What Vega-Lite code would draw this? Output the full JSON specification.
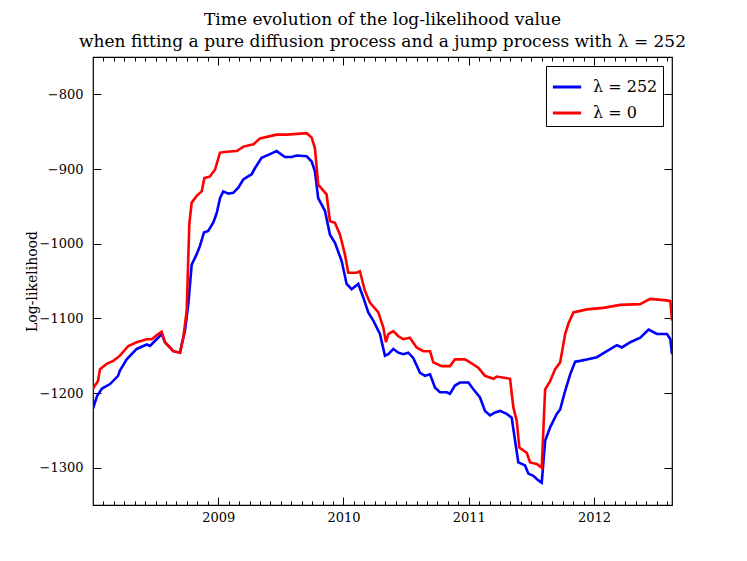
{
  "$schema": "https://vega.github.io/schema/vega-lite/v6.json",
  "description": "Time evolution of the log-likelihood, pure diffusion vs jump process",
  "width": 579,
  "height": 448,
  "autosize": {"type": "none"},
  "padding": {"left": 93, "top": 57, "right": 75, "bottom": 56},
  "title": {
    "text": ["Time evolution of the log-likelihood value", "when fitting a pure diffusion process and a jump process with λ = 252"],
    "font": "DejaVu Serif",
    "fontSize": 17,
    "fontWeight": "normal",
    "color": "black",
    "anchor": "middle",
    "offset": 6,
    "lineHeight": 22
  },
  "config": {
    "view": {"stroke": "black", "strokeWidth": 1.2},
    "axis": {
      "labelFont": "DejaVu Serif",
      "labelFontSize": 13,
      "labelColor": "black",
      "titleFont": "DejaVu Serif",
      "titleFontWeight": "normal",
      "titleColor": "black",
      "domain": false,
      "grid": false,
      "tickColor": "black"
    },
    "legend": {
      "labelFont": "DejaVu Serif",
      "labelFontSize": 16,
      "labelColor": "black"
    }
  },
  "data": {
    "values": [
      {"t": 2008.000, "v": -1221, "s": "λ = 252"},
      {"t": 2008.032, "v": -1204, "s": "λ = 252"},
      {"t": 2008.072, "v": -1194, "s": "λ = 252"},
      {"t": 2008.136, "v": -1188, "s": "λ = 252"},
      {"t": 2008.200, "v": -1177, "s": "λ = 252"},
      {"t": 2008.215, "v": -1170, "s": "λ = 252"},
      {"t": 2008.269, "v": -1155, "s": "λ = 252"},
      {"t": 2008.349, "v": -1141, "s": "λ = 252"},
      {"t": 2008.429, "v": -1135, "s": "λ = 252"},
      {"t": 2008.455, "v": -1137, "s": "λ = 252"},
      {"t": 2008.508, "v": -1128, "s": "λ = 252"},
      {"t": 2008.548, "v": -1121, "s": "λ = 252"},
      {"t": 2008.575, "v": -1132, "s": "λ = 252"},
      {"t": 2008.641, "v": -1144, "s": "λ = 252"},
      {"t": 2008.695, "v": -1146, "s": "λ = 252"},
      {"t": 2008.708, "v": -1135, "s": "λ = 252"},
      {"t": 2008.734, "v": -1117, "s": "λ = 252"},
      {"t": 2008.761, "v": -1081, "s": "λ = 252"},
      {"t": 2008.788, "v": -1028, "s": "λ = 252"},
      {"t": 2008.828, "v": -1014, "s": "λ = 252"},
      {"t": 2008.854, "v": -1003, "s": "λ = 252"},
      {"t": 2008.886, "v": -985, "s": "λ = 252"},
      {"t": 2008.920, "v": -983, "s": "λ = 252"},
      {"t": 2008.960, "v": -972, "s": "λ = 252"},
      {"t": 2008.988, "v": -959, "s": "λ = 252"},
      {"t": 2009.014, "v": -939, "s": "λ = 252"},
      {"t": 2009.040, "v": -930, "s": "λ = 252"},
      {"t": 2009.080, "v": -933, "s": "λ = 252"},
      {"t": 2009.120, "v": -932, "s": "λ = 252"},
      {"t": 2009.160, "v": -925, "s": "λ = 252"},
      {"t": 2009.200, "v": -914, "s": "λ = 252"},
      {"t": 2009.267, "v": -907, "s": "λ = 252"},
      {"t": 2009.293, "v": -899, "s": "λ = 252"},
      {"t": 2009.346, "v": -885, "s": "λ = 252"},
      {"t": 2009.413, "v": -880, "s": "λ = 252"},
      {"t": 2009.466, "v": -876, "s": "λ = 252"},
      {"t": 2009.532, "v": -884, "s": "λ = 252"},
      {"t": 2009.586, "v": -884, "s": "λ = 252"},
      {"t": 2009.626, "v": -882, "s": "λ = 252"},
      {"t": 2009.706, "v": -883, "s": "λ = 252"},
      {"t": 2009.746, "v": -890, "s": "λ = 252"},
      {"t": 2009.772, "v": -903, "s": "λ = 252"},
      {"t": 2009.798, "v": -939, "s": "λ = 252"},
      {"t": 2009.852, "v": -956, "s": "λ = 252"},
      {"t": 2009.892, "v": -988, "s": "λ = 252"},
      {"t": 2009.932, "v": -999, "s": "λ = 252"},
      {"t": 2009.985, "v": -1023, "s": "λ = 252"},
      {"t": 2010.025, "v": -1054, "s": "λ = 252"},
      {"t": 2010.065, "v": -1061, "s": "λ = 252"},
      {"t": 2010.118, "v": -1054, "s": "λ = 252"},
      {"t": 2010.158, "v": -1072, "s": "λ = 252"},
      {"t": 2010.198, "v": -1092, "s": "λ = 252"},
      {"t": 2010.238, "v": -1103, "s": "λ = 252"},
      {"t": 2010.291, "v": -1121, "s": "λ = 252"},
      {"t": 2010.331, "v": -1150, "s": "λ = 252"},
      {"t": 2010.358, "v": -1148, "s": "λ = 252"},
      {"t": 2010.398, "v": -1141, "s": "λ = 252"},
      {"t": 2010.438, "v": -1146, "s": "λ = 252"},
      {"t": 2010.478, "v": -1148, "s": "λ = 252"},
      {"t": 2010.517, "v": -1146, "s": "λ = 252"},
      {"t": 2010.557, "v": -1153, "s": "λ = 252"},
      {"t": 2010.611, "v": -1173, "s": "λ = 252"},
      {"t": 2010.651, "v": -1177, "s": "λ = 252"},
      {"t": 2010.691, "v": -1175, "s": "λ = 252"},
      {"t": 2010.731, "v": -1193, "s": "λ = 252"},
      {"t": 2010.771, "v": -1199, "s": "λ = 252"},
      {"t": 2010.824, "v": -1199, "s": "λ = 252"},
      {"t": 2010.850, "v": -1201, "s": "λ = 252"},
      {"t": 2010.890, "v": -1190, "s": "λ = 252"},
      {"t": 2010.930, "v": -1186, "s": "λ = 252"},
      {"t": 2010.997, "v": -1186, "s": "λ = 252"},
      {"t": 2011.037, "v": -1195, "s": "λ = 252"},
      {"t": 2011.090, "v": -1206, "s": "λ = 252"},
      {"t": 2011.130, "v": -1224, "s": "λ = 252"},
      {"t": 2011.170, "v": -1230, "s": "λ = 252"},
      {"t": 2011.210, "v": -1226, "s": "λ = 252"},
      {"t": 2011.250, "v": -1224, "s": "λ = 252"},
      {"t": 2011.303, "v": -1228, "s": "λ = 252"},
      {"t": 2011.343, "v": -1233, "s": "λ = 252"},
      {"t": 2011.370, "v": -1264, "s": "λ = 252"},
      {"t": 2011.396, "v": -1293, "s": "λ = 252"},
      {"t": 2011.450, "v": -1297, "s": "λ = 252"},
      {"t": 2011.476, "v": -1308, "s": "λ = 252"},
      {"t": 2011.516, "v": -1311, "s": "λ = 252"},
      {"t": 2011.556, "v": -1317, "s": "λ = 252"},
      {"t": 2011.583, "v": -1320, "s": "λ = 252"},
      {"t": 2011.610, "v": -1264, "s": "λ = 252"},
      {"t": 2011.650, "v": -1246, "s": "λ = 252"},
      {"t": 2011.703, "v": -1228, "s": "λ = 252"},
      {"t": 2011.730, "v": -1222, "s": "λ = 252"},
      {"t": 2011.770, "v": -1197, "s": "λ = 252"},
      {"t": 2011.810, "v": -1175, "s": "λ = 252"},
      {"t": 2011.850, "v": -1158, "s": "λ = 252"},
      {"t": 2011.890, "v": -1157, "s": "λ = 252"},
      {"t": 2011.943, "v": -1155, "s": "λ = 252"},
      {"t": 2012.023, "v": -1152, "s": "λ = 252"},
      {"t": 2012.103, "v": -1144, "s": "λ = 252"},
      {"t": 2012.183, "v": -1136, "s": "λ = 252"},
      {"t": 2012.223, "v": -1139, "s": "λ = 252"},
      {"t": 2012.290, "v": -1132, "s": "λ = 252"},
      {"t": 2012.370, "v": -1126, "s": "λ = 252"},
      {"t": 2012.436, "v": -1115, "s": "λ = 252"},
      {"t": 2012.503, "v": -1121, "s": "λ = 252"},
      {"t": 2012.583, "v": -1121, "s": "λ = 252"},
      {"t": 2012.610, "v": -1128, "s": "λ = 252"},
      {"t": 2012.623, "v": -1148, "s": "λ = 252"},
      {"t": 2008.000, "v": -1194, "s": "λ = 0"},
      {"t": 2008.040, "v": -1184, "s": "λ = 0"},
      {"t": 2008.056, "v": -1168, "s": "λ = 0"},
      {"t": 2008.109, "v": -1161, "s": "λ = 0"},
      {"t": 2008.162, "v": -1157, "s": "λ = 0"},
      {"t": 2008.215, "v": -1150, "s": "λ = 0"},
      {"t": 2008.282, "v": -1137, "s": "λ = 0"},
      {"t": 2008.349, "v": -1132, "s": "λ = 0"},
      {"t": 2008.429, "v": -1128, "s": "λ = 0"},
      {"t": 2008.469, "v": -1128, "s": "λ = 0"},
      {"t": 2008.521, "v": -1121, "s": "λ = 0"},
      {"t": 2008.548, "v": -1118, "s": "λ = 0"},
      {"t": 2008.575, "v": -1132, "s": "λ = 0"},
      {"t": 2008.641, "v": -1144, "s": "λ = 0"},
      {"t": 2008.695, "v": -1146, "s": "λ = 0"},
      {"t": 2008.721, "v": -1126, "s": "λ = 0"},
      {"t": 2008.748, "v": -1090, "s": "λ = 0"},
      {"t": 2008.769, "v": -974, "s": "λ = 0"},
      {"t": 2008.788, "v": -945, "s": "λ = 0"},
      {"t": 2008.828, "v": -936, "s": "λ = 0"},
      {"t": 2008.868, "v": -930, "s": "λ = 0"},
      {"t": 2008.889, "v": -912, "s": "λ = 0"},
      {"t": 2008.934, "v": -910, "s": "λ = 0"},
      {"t": 2008.974, "v": -901, "s": "λ = 0"},
      {"t": 2009.014, "v": -878, "s": "λ = 0"},
      {"t": 2009.068, "v": -877, "s": "λ = 0"},
      {"t": 2009.148, "v": -876, "s": "λ = 0"},
      {"t": 2009.201, "v": -870, "s": "λ = 0"},
      {"t": 2009.281, "v": -867, "s": "λ = 0"},
      {"t": 2009.334, "v": -859, "s": "λ = 0"},
      {"t": 2009.466, "v": -854, "s": "λ = 0"},
      {"t": 2009.546, "v": -854, "s": "λ = 0"},
      {"t": 2009.706, "v": -852, "s": "λ = 0"},
      {"t": 2009.746, "v": -858, "s": "λ = 0"},
      {"t": 2009.772, "v": -872, "s": "λ = 0"},
      {"t": 2009.798, "v": -921, "s": "λ = 0"},
      {"t": 2009.865, "v": -934, "s": "λ = 0"},
      {"t": 2009.892, "v": -970, "s": "λ = 0"},
      {"t": 2009.932, "v": -972, "s": "λ = 0"},
      {"t": 2009.972, "v": -988, "s": "λ = 0"},
      {"t": 2010.011, "v": -1014, "s": "λ = 0"},
      {"t": 2010.038, "v": -1039, "s": "λ = 0"},
      {"t": 2010.105, "v": -1039, "s": "λ = 0"},
      {"t": 2010.131, "v": -1037, "s": "λ = 0"},
      {"t": 2010.171, "v": -1063, "s": "λ = 0"},
      {"t": 2010.211, "v": -1079, "s": "λ = 0"},
      {"t": 2010.278, "v": -1092, "s": "λ = 0"},
      {"t": 2010.318, "v": -1112, "s": "λ = 0"},
      {"t": 2010.339, "v": -1132, "s": "λ = 0"},
      {"t": 2010.358, "v": -1121, "s": "λ = 0"},
      {"t": 2010.398, "v": -1117, "s": "λ = 0"},
      {"t": 2010.438, "v": -1124, "s": "λ = 0"},
      {"t": 2010.478, "v": -1128, "s": "λ = 0"},
      {"t": 2010.530, "v": -1126, "s": "λ = 0"},
      {"t": 2010.584, "v": -1139, "s": "λ = 0"},
      {"t": 2010.637, "v": -1144, "s": "λ = 0"},
      {"t": 2010.691, "v": -1144, "s": "λ = 0"},
      {"t": 2010.717, "v": -1159, "s": "λ = 0"},
      {"t": 2010.784, "v": -1164, "s": "λ = 0"},
      {"t": 2010.850, "v": -1164, "s": "λ = 0"},
      {"t": 2010.890, "v": -1155, "s": "λ = 0"},
      {"t": 2010.970, "v": -1155, "s": "λ = 0"},
      {"t": 2011.010, "v": -1159, "s": "λ = 0"},
      {"t": 2011.076, "v": -1166, "s": "λ = 0"},
      {"t": 2011.130, "v": -1177, "s": "λ = 0"},
      {"t": 2011.197, "v": -1181, "s": "λ = 0"},
      {"t": 2011.224, "v": -1178, "s": "λ = 0"},
      {"t": 2011.330, "v": -1181, "s": "λ = 0"},
      {"t": 2011.356, "v": -1219, "s": "λ = 0"},
      {"t": 2011.383, "v": -1237, "s": "λ = 0"},
      {"t": 2011.404, "v": -1273, "s": "λ = 0"},
      {"t": 2011.463, "v": -1280, "s": "λ = 0"},
      {"t": 2011.490, "v": -1293, "s": "λ = 0"},
      {"t": 2011.543, "v": -1295, "s": "λ = 0"},
      {"t": 2011.583, "v": -1300, "s": "λ = 0"},
      {"t": 2011.610, "v": -1195, "s": "λ = 0"},
      {"t": 2011.650, "v": -1184, "s": "λ = 0"},
      {"t": 2011.690, "v": -1168, "s": "λ = 0"},
      {"t": 2011.730, "v": -1159, "s": "λ = 0"},
      {"t": 2011.770, "v": -1121, "s": "λ = 0"},
      {"t": 2011.796, "v": -1107, "s": "λ = 0"},
      {"t": 2011.836, "v": -1092, "s": "λ = 0"},
      {"t": 2011.890, "v": -1090, "s": "λ = 0"},
      {"t": 2011.943, "v": -1088, "s": "λ = 0"},
      {"t": 2012.076, "v": -1086, "s": "λ = 0"},
      {"t": 2012.209, "v": -1082, "s": "λ = 0"},
      {"t": 2012.368, "v": -1081, "s": "λ = 0"},
      {"t": 2012.448, "v": -1074, "s": "λ = 0"},
      {"t": 2012.581, "v": -1076, "s": "λ = 0"},
      {"t": 2012.610, "v": -1077, "s": "λ = 0"},
      {"t": 2012.623, "v": -1103, "s": "λ = 0"}
    ]
  },
  "layer": [
    {
      "mark": {"type": "line", "strokeWidth": 2.6, "clip": true},
      "encoding": {
        "x": {
          "field": "t",
          "type": "quantitative",
          "scale": {"domain": [2008, 2012.623], "nice": false, "zero": false},
          "axis": {
            "orient": "bottom",
            "title": null,
            "values": [2008.0833, 2008.1667, 2008.25, 2008.3333, 2008.4167, 2008.5, 2008.5833, 2008.6667, 2008.75, 2008.8333, 2008.9167, 2009, 2009.0833, 2009.1667, 2009.25, 2009.3333, 2009.4167, 2009.5, 2009.5833, 2009.6667, 2009.75, 2009.8333, 2009.9167, 2010, 2010.0833, 2010.1667, 2010.25, 2010.3333, 2010.4167, 2010.5, 2010.5833, 2010.6667, 2010.75, 2010.8333, 2010.9167, 2011, 2011.0833, 2011.1667, 2011.25, 2011.3333, 2011.4167, 2011.5, 2011.5833, 2011.6667, 2011.75, 2011.8333, 2011.9167, 2012, 2012.0833, 2012.1667, 2012.25, 2012.3333, 2012.4167, 2012.5, 2012.5833],
            "labelExpr": "datum.value % 1 == 0 ? format(datum.value, 'd') : ''",
            "tickSize": {"condition": {"test": "datum.value % 1 == 0", "value": -8}, "value": -4},
            "labelPadding": 14,
            "labelFlush": false,
            "labelOverlap": false
          }
        },
        "y": {
          "field": "v",
          "type": "quantitative",
          "scale": {"domain": [-1350, -750], "nice": false, "zero": false},
          "axis": {
            "orient": "left",
            "title": "Log-likelihood",
            "titleFontSize": 14,
            "titlePadding": 0,
            "values": [-1300, -1200, -1100, -1000, -900, -800],
            "format": "d",
            "tickSize": -8,
            "labelPadding": 18
          }
        },
        "color": {
          "field": "s",
          "type": "nominal",
          "scale": {"domain": ["λ = 252", "λ = 0"], "range": ["#0000ff", "#ff0000"]},
          "legend": {
            "title": null,
            "orient": "top-right",
            "offset": 9,
            "symbolType": "stroke",
            "symbolStrokeWidth": 3,
            "symbolSize": 800,
            "labelOffset": 10,
            "rowPadding": 2,
            "padding": 5,
            "strokeColor": "black",
            "fillColor": "white"
          }
        }
      }
    },
    {
      "mark": {"type": "line", "strokeOpacity": 0},
      "encoding": {
        "x": {
          "field": "t",
          "type": "quantitative",
          "axis": {
            "orient": "top",
            "title": null,
            "labels": false,
            "values": [2008.0833, 2008.1667, 2008.25, 2008.3333, 2008.4167, 2008.5, 2008.5833, 2008.6667, 2008.75, 2008.8333, 2008.9167, 2009, 2009.0833, 2009.1667, 2009.25, 2009.3333, 2009.4167, 2009.5, 2009.5833, 2009.6667, 2009.75, 2009.8333, 2009.9167, 2010, 2010.0833, 2010.1667, 2010.25, 2010.3333, 2010.4167, 2010.5, 2010.5833, 2010.6667, 2010.75, 2010.8333, 2010.9167, 2011, 2011.0833, 2011.1667, 2011.25, 2011.3333, 2011.4167, 2011.5, 2011.5833, 2011.6667, 2011.75, 2011.8333, 2011.9167, 2012, 2012.0833, 2012.1667, 2012.25, 2012.3333, 2012.4167, 2012.5, 2012.5833],
            "tickSize": {"condition": {"test": "datum.value % 1 == 0", "value": -8}, "value": -4}
          }
        },
        "y": {
          "field": "v",
          "type": "quantitative",
          "axis": {
            "orient": "right",
            "title": null,
            "labels": false,
            "values": [-1300, -1200, -1100, -1000, -900, -800],
            "tickSize": -8
          }
        },
        "detail": {"field": "s", "type": "nominal"}
      }
    }
  ],
  "resolve": {"axis": {"x": "independent", "y": "independent"}}
}
